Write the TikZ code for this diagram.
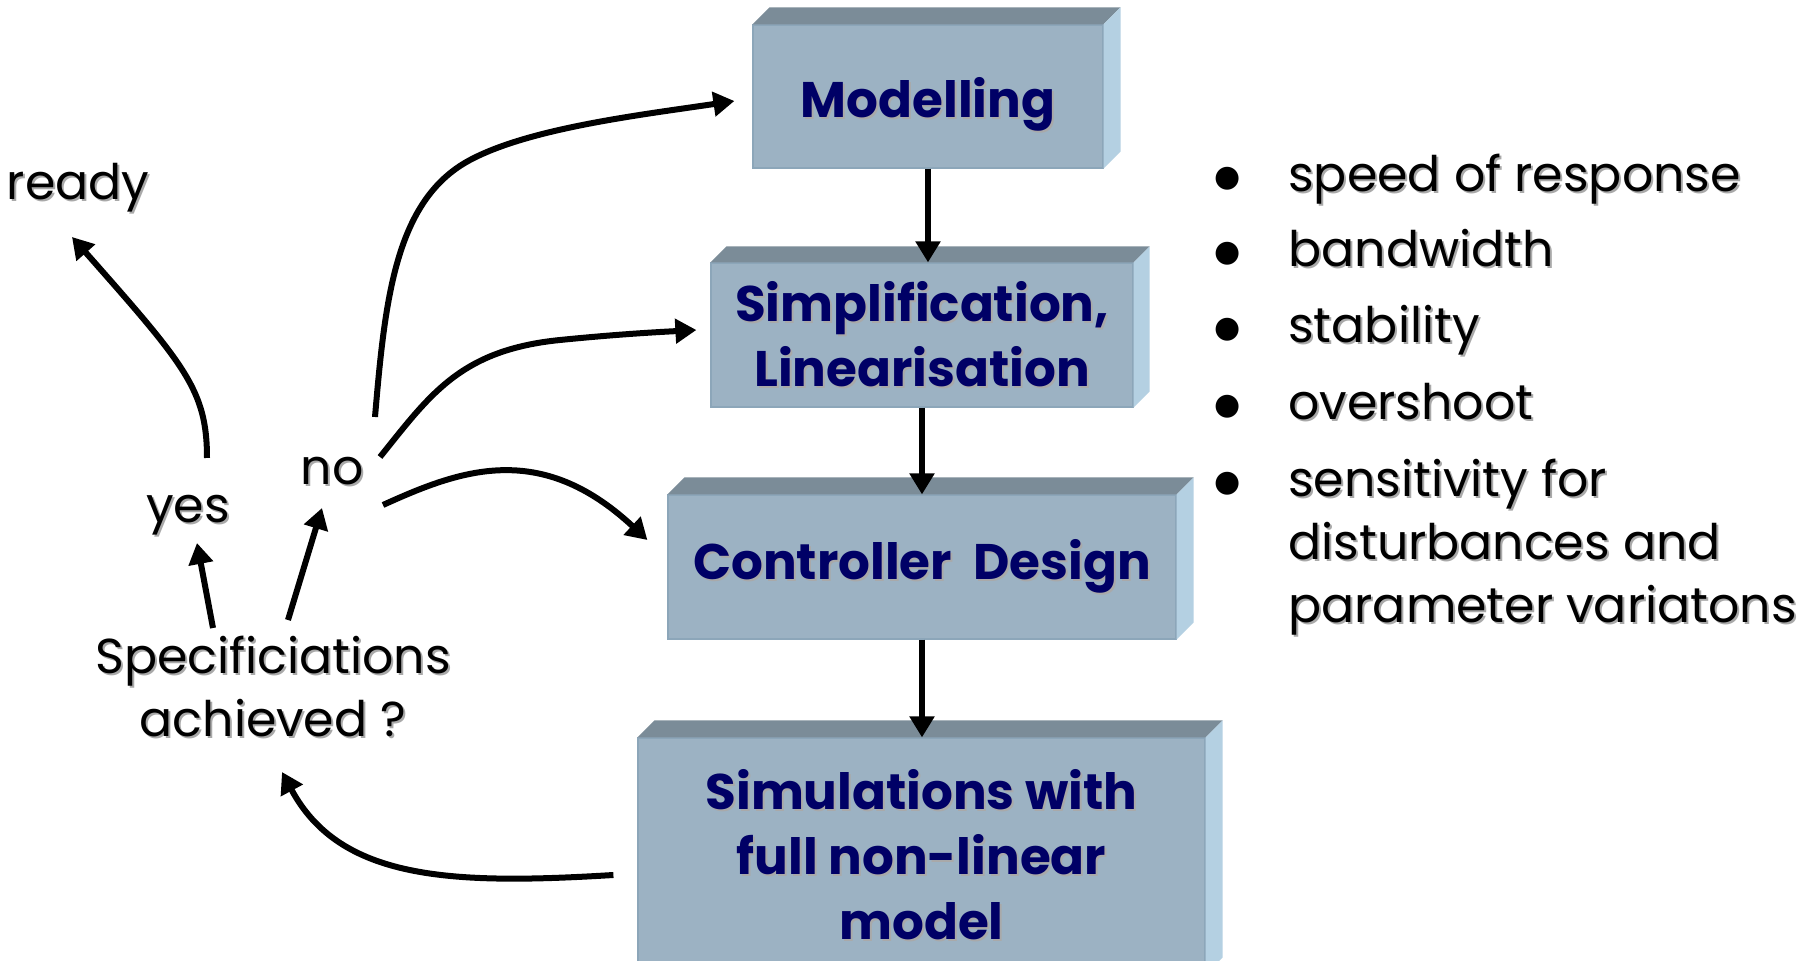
\documentclass[tikz,border=0pt]{standalone}
\usepackage{fontspec}
\setmainfont{Poppins}
\newfontfamily\symfont{DejaVu Sans}
\usetikzlibrary{arrows.meta}

\definecolor{faceblue}{HTML}{9CB2C3}
\definecolor{topgray}{HTML}{7B8C98}
\definecolor{sideblue}{HTML}{B4D0E2}
\definecolor{edgeblue}{HTML}{8CA6B9}
\definecolor{navytext}{HTML}{000066}
\definecolor{shadowgray}{HTML}{A9A9A9}

% text with a soft drop shadow
\newcommand\shd[1]{\leavevmode\rlap{\kern1pt\raisebox{-1pt}{\textcolor{shadowgray}{#1}}}#1}
% large bullet hung to the left of an item
\newcommand\bul{\llap{\raisebox{2.5pt}{\symfont\fontsize{15}{15}\selectfont ●}\hspace{24pt}}}
% top and right faces of a raised block
\newcommand\bevel[2]{%
  \fill[topgray] (#1.north west) -- ([shift={(#2,-#2)}]#1.north west)
    -- ([shift={(#2,-#2)}]#1.north east) -- (#1.north east) -- cycle;
  \fill[sideblue] (#1.north east) -- ([shift={(#2,-#2)}]#1.north east)
    -- ([shift={(#2,-#2)}]#1.south east) -- (#1.south east) -- cycle;}

\tikzset{
  blockbox/.style={fill=faceblue, draw=edgeblue, line width=0.6pt,
    text=navytext, font=\fontsize{25}{32.5}\selectfont\bfseries,
    align=center, inner sep=0pt},
  plainlabel/.style={font=\fontsize{24.5}{31.5}\selectfont, text=black,
    align=center, inner sep=0pt},
  flow/.style={line width=3pt, -{Triangle[length=10.5pt,width=12pt]}},
}

\begin{document}
\begin{tikzpicture}[x=0.5pt, y=-0.5pt]
\useasboundingbox (0,0) rectangle (1806,961);
\fill[white] (0,0) rectangle (1806,961);
\clip (0,0) rectangle (1806,961);

% process blocks
\node[blockbox, minimum width=175pt, minimum height=71.5pt,
  text height=23pt, text depth=2pt] (model) at (928,96.5)
  {\shd{Modelling}};
\bevel{model}{17}
\node[blockbox, minimum width=211pt, minimum height=72pt] (simp) at (922,335)
  {\shd{Simplification,}\\\shd{Linearisation}};
\bevel{simp}{16}
\node[blockbox, minimum width=254pt, minimum height=72pt] (ctrl) at (922,567)
  {\shd{Controller\ \ Design}};
\bevel{ctrl}{17}
\node[blockbox, minimum width=283.5pt, minimum height=118pt] (sim) at (921.5,856)
  {\shd{Simulations with}\\\shd{full non-linear}\\\shd{model}};
\bevel{sim}{17}

% decision labels
\node[plainlabel, anchor=base] (ready) at (78,200) {\shd{ready}};
\node[plainlabel, anchor=base] (yes) at (188,523) {\shd{yes}};
\node[plainlabel, anchor=base] (no) at (332,485) {\shd{no}};
\node[plainlabel] (spec) at (273,688) {\shd{Specificiations}\\\shd{achieved ?}};

% specification list
\node[plainlabel, anchor=base west, align=left] (b1) at (1288,192) {\bul\shd{speed of response}};
\node[plainlabel, anchor=base west, align=left] (b2) at (1288,267) {\bul\shd{bandwidth}};
\node[plainlabel, anchor=base west, align=left] (b3) at (1288,343) {\bul\shd{stability}};
\node[plainlabel, anchor=base west, align=left] (b4) at (1288,420) {\bul\shd{overshoot}};
\node[plainlabel, anchor=base west, align=left] (b5) at (1288,623)
  {\bul\shd{sensitivity for}\\\shd{disturbances and}\\\shd{parameter variatons}};

% main flow
\draw[flow] (model.south) -- (model.south |- simp.north);
\draw[flow] (simp.south) -- (simp.south |- ctrl.north);
\draw[flow] (ctrl.south) -- (ctrl.south |- sim.north);

% feedback loop
\draw[flow] ([shift={(-24,19)}]sim.west) .. controls (450,885) and (340,880)
  .. ([shift={(9,84)}]spec.center);
\draw[flow] ([shift={(-60,-60)}]spec.center) -- ([shift={(9,20)}]yes.base);
\draw[flow] ([shift={(15,-68)}]spec.center) -- ([shift={(-10,23)}]no.base);
\draw[flow] ([shift={(19,-65)}]yes.base) .. controls (207,390) and (185,365)
  .. ([shift={(-6,37)}]ready.base);
\draw[flow] ([shift={(43,-68)}]no.base) .. controls (385,300) and (395,200) .. (470,160)
  .. controls (530,128) and (640,115) .. ([shift={(-18,4.5)}]model.west);
\draw[flow] ([shift={(48,-28)}]no.base) .. controls (430,395) and (460,350) .. (560,340)
  .. controls (620,334) and (660,332) .. ([shift={(-14,-5)}]simp.west);
\draw[flow] ([shift={(51,20)}]no.base) .. controls (460,470) and (540,440)
  .. ([shift={(-20,-27)}]ctrl.west);
\end{tikzpicture}
\end{document}
